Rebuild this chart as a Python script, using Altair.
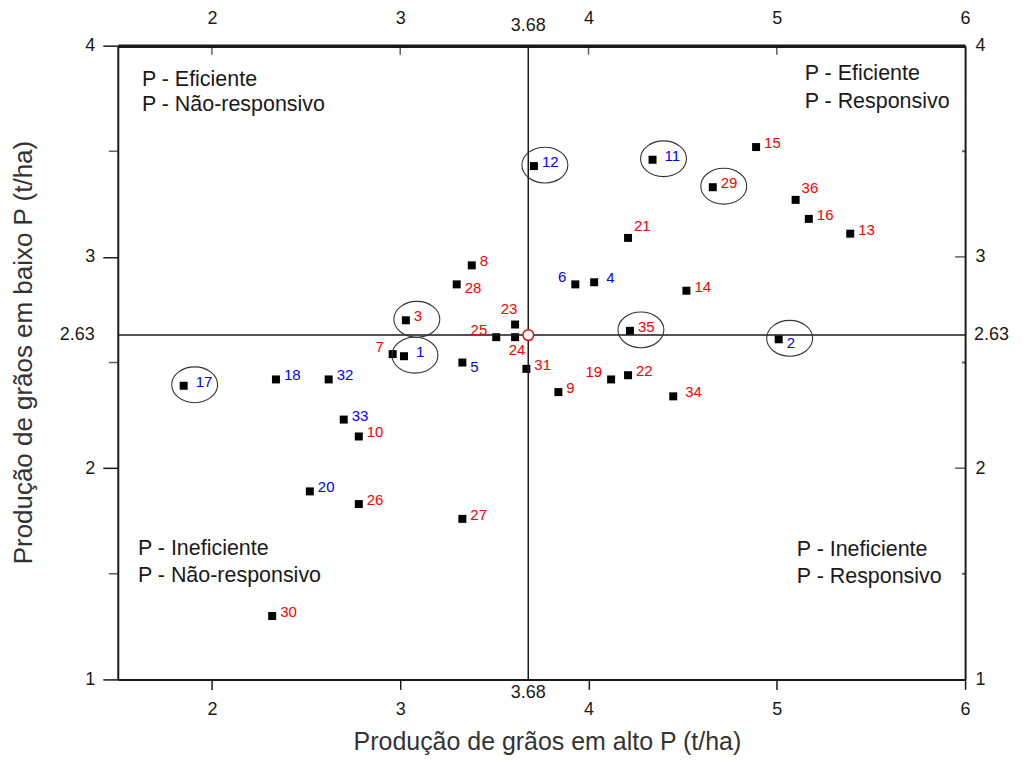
import altair as alt
import pandas as pd

# ---------------- data ----------------
ids = list(range(1, 37))
alto = [3.02, 5.01, 3.03, 4.03, 3.33, 3.93, 2.96, 3.38, 3.84, 2.78,
        4.34, 3.71, 5.39, 4.52, 4.89, 5.17, 1.85, 2.34, 4.12, 2.52,
        4.21, 4.21, 3.61, 3.61, 3.51, 2.78, 3.33, 3.30, 4.66, 2.32,
        3.67, 2.62, 2.70, 4.45, 4.22, 5.10]
baixo = [2.53, 2.61, 2.70, 2.88, 2.50, 2.87, 2.54, 2.96, 2.36, 2.15,
         3.46, 3.43, 3.11, 2.84, 3.52, 3.18, 2.39, 2.42, 2.42, 1.89,
         3.09, 2.44, 2.68, 2.62, 2.62, 1.83, 1.76, 2.87, 3.33, 1.30,
         2.47, 2.42, 2.23, 2.34, 2.65, 3.27]
blue_ids = [1, 2, 4, 5, 6, 11, 12, 17, 18, 20, 32, 33]
circled_ids = [1, 2, 3, 11, 12, 17, 29, 35]
mean_alto = 3.68
mean_baixo = 2.63

x_ticks = [2, 3, 4, 5, 6]
y_ticks = [1, 2, 3, 4]
y_minor = [1.5, 2.5, 3.5]

quad_text = ["P - Eficiente", "P - Não-responsivo",
             "P - Eficiente", "P - Responsivo",
             "P - Ineficiente", "P - Não-responsivo",
             "P - Ineficiente", "P - Responsivo"]
quad_x = [1.628, 1.628, 5.148, 5.148, 1.607, 1.607, 5.106, 5.106]
quad_y = [3.839, 3.721, 3.864, 3.735, 1.619, 1.488, 1.614, 1.484]

# label placement around each square (default east)
placement = {36: "NE", 21: "NE", 2: "SE", 5: "SE", 28: "SE",
             17: "EF", 34: "EF", 1: "EF", 4: "EF", 11: "EF",
             6: "W", 19: "W", 7: "W", 25: "W", 23: "N", 24: "S"}
label_styles = {
    "E": ("left", 8, -4),
    "NE": ("left", 6, -12),
    "SE": ("left", 8, 4),
    "EF": ("left", 12, -4),
    "W": ("right", -9, -7),
    "N": ("center", -6, -16),
    "S": ("center", 2, 13),
}

df = pd.DataFrame({"id": ids, "alto": alto, "baixo": baixo})
df["label"] = df["id"].astype(str)
df["grupo"] = ["azul" if i in blue_ids else "vermelho" for i in ids]
df["pos"] = [placement.get(i, "E") for i in ids]
df_circ = df[df["id"].isin(circled_ids)]

FONT = "Liberation Sans"
INK = "#1a1a1a"

xscale = alt.Scale(domain=[1.5, 6], nice=False, zero=False)
yscale = alt.Scale(domain=[1, 4], nice=False, zero=False)

# ---------------- axes ----------------
bottom_axis = alt.Axis(
    orient="bottom", values=x_ticks, title="Produção de grãos em alto P (t/ha)",
    grid=False, tickSize=10, tickWidth=1.5, tickColor=INK,
    domainColor=INK, domainWidth=2,
    labelFont=FONT, labelFontSize=18, labelColor=INK, labelPadding=11,
    labelBaseline="top", labelFlush=False, labelOverlap=False,
    titleFont=FONT, titleFontSize=25, titleFontWeight="normal", titleColor="#333",
    titleX=430, titleY=70, titleBaseline="alphabetic", titleAlign="center",
)
left_axis = alt.Axis(
    orient="left", values=y_ticks, title="Produção de grãos em baixo P (t/ha)",
    grid=False, tickSize=15, tickWidth=1.5, tickColor=INK,
    domainColor=INK, domainWidth=2,
    labelFont=FONT, labelFontSize=18, labelColor=INK, labelPadding=8,
    labelFlush=False, labelOverlap=False,
    titleFont=FONT, titleFontSize=26, titleFontWeight="normal", titleColor="#333",
    titleAngle=270, titleX=-86, titleY=307, titleBaseline="alphabetic", titleAlign="center",
)
top_axis = alt.Axis(
    orient="top", values=x_ticks, title=None, grid=False, ticks=False,
    domainColor=INK, domainWidth=3.5,
    labelFont=FONT, labelFontSize=18, labelColor=INK, labelPadding=27,
    labelBaseline="middle", labelFlush=False, labelOverlap=False,
)
right_axis = alt.Axis(
    orient="right", values=y_ticks, title=None, grid=False, ticks=False,
    domainColor=INK, domainWidth=2,
    labelFont=FONT, labelFontSize=18, labelColor=INK, labelPadding=10,
    labelAlign="left", labelFlush=False, labelOverlap=False,
)

base = alt.Chart(df)

points = base.mark_square(size=64, color="black", opacity=1).encode(
    x=alt.X("alto:Q", scale=xscale, axis=bottom_axis),
    y=alt.Y("baixo:Q", scale=yscale, axis=left_axis),
)

vline = alt.Chart(pd.DataFrame({"v": [mean_alto]})).mark_rule(
    color=INK, strokeWidth=1.5).encode(x=alt.X("v:Q", scale=xscale, axis=None))
hline = alt.Chart(pd.DataFrame({"v": [mean_baixo]})).mark_rule(
    color=INK, strokeWidth=1.5).encode(y=alt.Y("v:Q", scale=yscale, axis=None))

mean_pt = alt.Chart(pd.DataFrame({"a": [mean_alto], "b": [mean_baixo]})).mark_point(
    shape="circle", size=115, filled=True, fill="white", stroke="#ff0000",
    strokeWidth=1.5, opacity=1, fillOpacity=1).encode(
    x=alt.X("a:Q", scale=xscale, axis=None),
    y=alt.Y("b:Q", scale=yscale, axis=None))

ELLIPSE = ("M 1 0 C 1 0.4308 0.5523 0.78 0 0.78 C -0.5523 0.78 -1 0.4308 -1 0 "
           "C -1 -0.4308 -0.5523 -0.78 0 -0.78 C 0.5523 -0.78 1 -0.4308 1 0 Z")
ellipses = alt.Chart(df_circ).mark_point(
    shape=ELLIPSE, size=2116, filled=False, stroke="#333", strokeWidth=1.1,
    opacity=1, xOffset=11, yOffset=-1).encode(
    x=alt.X("alto:Q", scale=xscale, axis=None),
    y=alt.Y("baixo:Q", scale=yscale, axis=None))

color_enc = alt.Color("grupo:N", scale=alt.Scale(domain=["vermelho", "azul"],
                                                  range=["#ff0000", "#0000ff"]), legend=None)
label_layers = []
for pos, (align, dx, dy) in label_styles.items():
    label_layers.append(
        base.transform_filter(alt.datum.pos == pos).mark_text(
            align=align, baseline="middle", dx=dx, dy=dy, fontSize=15, font=FONT).encode(
            x=alt.X("alto:Q", scale=xscale, axis=None),
            y=alt.Y("baixo:Q", scale=yscale, axis=None),
            text="label:N", color=color_enc)
    )

quad = alt.Chart(pd.DataFrame({"t": quad_text, "x": quad_x, "y": quad_y})).mark_text(
    align="left", baseline="middle", fontSize=21.5, font=FONT, color=INK).encode(
    x=alt.X("x:Q", scale=xscale, axis=None),
    y=alt.Y("y:Q", scale=yscale, axis=None), text="t:N")

# inward ticks (top and right) and minor ticks (left, right)
top_ticks = alt.Chart(pd.DataFrame({"v": x_ticks[:-1]})).mark_tick(
    orient="vertical", size=9, thickness=1.5, color=INK, yOffset=4.5).encode(
    x=alt.X("v:Q", scale=xscale, axis=top_axis),
    y=alt.YDatum(4, axis=None))
right_major = alt.Chart(pd.DataFrame({"v": y_ticks[1:-1]})).mark_tick(
    orient="horizontal", size=10, thickness=1.5, color=INK, xOffset=-5).encode(
    y=alt.Y("v:Q", scale=yscale, axis=right_axis),
    x=alt.XDatum(6, axis=None))
right_minor = alt.Chart(pd.DataFrame({"v": y_minor})).mark_tick(
    orient="horizontal", size=3, thickness=2, color=INK, xOffset=-1.5).encode(
    y=alt.Y("v:Q", scale=yscale, axis=None),
    x=alt.XDatum(6, axis=None))
left_minor = alt.Chart(pd.DataFrame({"v": y_minor})).mark_tick(
    orient="horizontal", size=9, thickness=1.5, color=INK, xOffset=-4.5).encode(
    y=alt.Y("v:Q", scale=yscale, axis=None),
    x=alt.XDatum(1.5, axis=None))

# mean value labels on the axes
mx = f"{mean_alto:.2f}"
my = f"{mean_baixo:.2f}"
def mean_label(xv, yv, txt, align, dx, dy):
    return alt.Chart(pd.DataFrame({"t": [txt]})).mark_text(
        align=align, baseline="middle", dx=dx, dy=dy, fontSize=18, font=FONT,
        color=INK).encode(x=alt.XDatum(xv, axis=None), y=alt.YDatum(yv, axis=None), text="t:N")

mean_labels = [
    mean_label(mean_alto, 1, mx, "center", 0, 14),
    mean_label(mean_alto, 4, mx, "center", 0, -20),
    mean_label(1.5, mean_baixo, my, "right", -23, 0),
    mean_label(6, mean_baixo, my, "left", 9, 0),
]

chart = alt.layer(
    points, vline, hline, ellipses, *label_layers, mean_pt, quad,
    top_ticks, right_major, right_minor, left_minor, *mean_labels,
).resolve_axis(x="independent", y="independent").properties(
    width=849, height=635,
    autosize=alt.AutoSizeParams(type="none"),
    padding={"left": 110, "top": 37, "right": 50, "bottom": 76},
    background="white",
).configure_view(strokeWidth=0)

chart.save("out.html", embed_options={"renderer": "svg", "actions": False})
